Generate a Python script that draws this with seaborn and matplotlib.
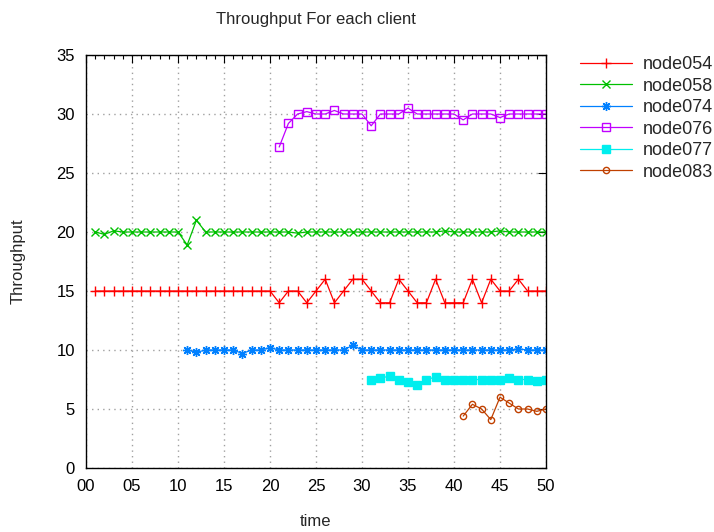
import seaborn as sns
import matplotlib.pyplot as plt
from matplotlib.ticker import MultipleLocator, FormatStrFormatter

# time steps per client
t054 = list(range(1, 51))
t058 = list(range(1, 51))
t074 = list(range(11, 51))
t076 = list(range(21, 51))
t077 = list(range(31, 51))
t083 = list(range(41, 51))

node054 = [15] * 20 + [14, 15, 15, 14, 15, 16, 14, 15, 16, 16,
                       15, 14, 14, 16, 15, 14, 14, 16, 14, 14,
                       14, 16, 14, 16, 15, 15, 16, 15, 15, 15]
node058 = [20, 19.8, 20.1, 20, 20, 20, 20, 20, 20, 20,
           18.9, 21, 20, 20, 20, 20, 20, 20, 20, 20,
           20, 20, 19.9, 20, 20, 20, 20, 20, 20, 20,
           20, 20, 20, 20, 20, 20, 20, 20, 20.1, 20,
           20, 20, 20, 20, 20.1, 20, 20, 20, 20, 20]
node074 = [10, 9.8, 10, 10, 10, 10, 9.7, 10, 10, 10.2,
           10, 10, 10, 10, 10, 10, 10, 10, 10.4, 10,
           10, 10, 10, 10, 10, 10, 10, 10, 10, 10,
           10, 10, 10, 10, 10, 10, 10.1, 10, 10, 10]
node076 = [27.2, 29.2, 30, 30.2, 30, 30, 30.3, 30, 30, 30,
           29.0, 30, 30, 30, 30.5, 30, 30, 30, 30, 30,
           29.5, 30, 30, 30, 29.7, 30, 30, 30, 30, 30]
node077 = [7.5, 7.6, 7.8, 7.5, 7.3, 7.0, 7.5, 7.7, 7.5, 7.5,
           7.5, 7.5, 7.5, 7.5, 7.5, 7.6, 7.5, 7.5, 7.4, 7.5]
node083 = [4.4, 5.4, 5.0, 4.1, 6.0, 5.5, 5.0, 5.0, 4.8, 5.0]

sns.set_style("white")
plt.rcParams['font.family'] = ['Liberation Sans', 'DejaVu Sans']

fig = plt.figure(figsize=(7.14, 5.32), dpi=100)
ax = fig.add_axes([86 / 714, 64 / 532, 460 / 714, 413 / 532])

series = [
    ("node054", t054, node054, "#ff0000", "+", 7.5, None),
    ("node058", t058, node058, "#00c000", "x", 6, None),
    ("node074", t074, node074, "#0080ff", (8, 2, 0), 6.5, None),
    ("node076", t076, node076, "#c000ff", "s", 5.5, "none"),
    ("node077", t077, node077, "#00eeee", "s", 5.5, None),
    ("node083", t083, node083, "#c04000", "o", 4.5, "none"),
]

for name, t, v, col, mk, ms, fc in series:
    kw = dict(marker=mk, markersize=ms, markeredgewidth=1.0,
              markeredgecolor=col)
    if fc is not None:
        kw["markerfacecolor"] = fc
    sns.lineplot(x=t, y=v, color=col, linewidth=0.9, label=name, ax=ax, **kw)

ax.set_xlim(0, 50)
ax.set_ylim(0, 35)
ax.xaxis.set_major_locator(MultipleLocator(5))
ax.xaxis.set_minor_locator(MultipleLocator(1))
ax.xaxis.set_major_formatter(FormatStrFormatter("%02d"))
ax.yaxis.set_major_locator(MultipleLocator(5))
ax.tick_params(which="both", direction="in", top=True, right=True,
               colors="black", labelsize=12, pad=8)
ax.tick_params(which="major", length=6, width=0.8)
ax.tick_params(which="minor", length=3, width=0.8)
ax.grid(True, which="major", color="#a0a0a0", linestyle=(0, (1, 3)), linewidth=1)
for s in ax.spines.values():
    s.set_color("black")
    s.set_linewidth(1)

ax.set_xlabel("time", fontsize=12, labelpad=14)
ax.set_ylabel("Throughput", fontsize=12, labelpad=22)
ax.set_title("Throughput For each client", fontsize=12, pad=22)

ax.legend(loc="upper left", bbox_to_anchor=(580 / 714, 1 - 56 / 532),
          bbox_transform=fig.transFigure, frameon=False, fontsize=13,
          handlelength=2.9, labelspacing=0.25, handletextpad=0.6,
          borderaxespad=0, borderpad=0)

plt.savefig("out.png", dpi=100)
